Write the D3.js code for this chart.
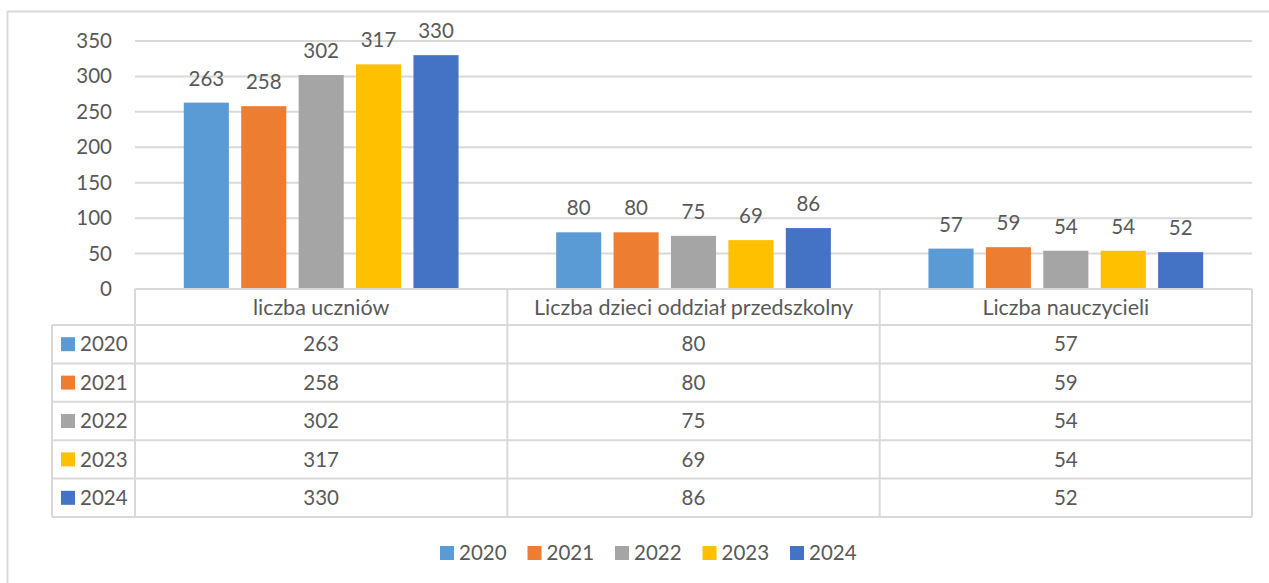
<!DOCTYPE html>
<html>
<head>
<meta charset="utf-8">
<script src="https://cdn.jsdelivr.net/npm/d3@7"></script>
<style>
  body { margin: 0; background: #fff; }
  svg text { font-family: Lato, "Noto Sans", sans-serif; fill: #595959; }
</style>
</head>
<body>
<svg width="1269" height="583"></svg>
<script>
const categories = ["liczba uczniów", "Liczba dzieci oddział przedszkolny", "Liczba nauczycieli"];
const years = ["2020", "2021", "2022", "2023", "2024"];
const values2020 = [263, 80, 57];
const values2021 = [258, 80, 59];
const values2022 = [302, 75, 54];
const values2023 = [317, 69, 54];
const values2024 = [330, 86, 52];
const yTicks = [0, 50, 100, 150, 200, 250, 300, 350];
const colors = ["#5B9BD5", "#ED7D31", "#A5A5A5", "#FFC000", "#4472C4"];

const series = [values2020, values2021, values2022, values2023, values2024];

const svg = d3.select("svg");
const grid = "#d9d9d9";
const fontSize = 20.5;   // numbers
const labelSize = 21.5;  // category names

// chart frame
svg.append("rect")
  .attr("x", 7.5).attr("y", 11.5)
  .attr("width", 1300).attr("height", 600)
  .attr("fill", "none").attr("stroke", grid).attr("stroke-width", 2);

const plotLeft = 135, plotRight = 1252, plotTop = 41, base = 289;

const y = d3.scaleLinear().domain([0, 350]).range([base, plotTop]);
const x = d3.scaleBand().domain(categories).range([plotLeft, plotRight]);
const xInner = d3.scaleBand().domain(years)
  .range([0, x.bandwidth()]).paddingInner(0.215).paddingOuter(0.85);

// gridlines
svg.append("g").selectAll("line")
  .data(yTicks.filter(d => d > 0))
  .join("line")
  .attr("x1", plotLeft).attr("x2", plotRight)
  .attr("y1", d => y(d)).attr("y2", d => y(d))
  .attr("stroke", grid).attr("stroke-width", 2);

// y axis labels
const yAxis = svg.append("g")
  .attr("transform", `translate(${plotLeft - 23},0)`)
  .call(d3.axisLeft(y).tickValues(yTicks).tickSize(0).tickPadding(0));
yAxis.select(".domain").remove();
yAxis.selectAll("text")
  .style("font-size", fontSize + "px")
  .style("font-family", "Lato, 'Noto Sans', sans-serif")
  .attr("fill", "#595959");

// bars
const groups = svg.append("g").selectAll("g")
  .data(categories)
  .join("g")
  .attr("transform", d => `translate(${x(d)},0)`);

groups.selectAll("rect")
  .data((c, i) => years.map((yr, j) => ({ yr, j, v: series[j][i] })))
  .join("rect")
  .attr("x", d => xInner(d.yr))
  .attr("width", xInner.bandwidth())
  .attr("y", d => y(d.v))
  .attr("height", d => base - y(d.v))
  .attr("fill", d => colors[d.j]);

groups.selectAll("text")
  .data((c, i) => years.map((yr, j) => ({ yr, j, v: series[j][i] })))
  .join("text")
  .attr("x", d => xInner(d.yr) + xInner.bandwidth() / 2)
  .attr("y", d => y(d.v) - 17)
  .attr("text-anchor", "middle")
  .style("font-size", fontSize + "px")
  .text(d => d.v);

// data table
const tableLeft = 52;
const headerBottom = 325;
const rowH = 38.4;
const tableBottom = headerBottom + rowH * years.length;
const table = svg.append("g")
  .attr("stroke", grid).attr("stroke-width", 2);

table.append("line")
  .attr("x1", plotLeft).attr("x2", plotRight).attr("y1", base).attr("y2", base);
table.selectAll("line.h")
  .data(d3.range(years.length + 1))
  .join("line").attr("class", "h")
  .attr("x1", tableLeft).attr("x2", plotRight)
  .attr("y1", d => headerBottom + d * rowH)
  .attr("y2", d => headerBottom + d * rowH);
table.selectAll("line.v")
  .data(categories.map(c => x(c)).concat([plotRight]))
  .join("line").attr("class", "v")
  .attr("x1", d => d).attr("x2", d => d)
  .attr("y1", base).attr("y2", tableBottom);
table.append("line")
  .attr("x1", tableLeft).attr("x2", tableLeft)
  .attr("y1", headerBottom).attr("y2", tableBottom);

svg.append("g").selectAll("text")
  .data(categories)
  .join("text")
  .attr("x", d => x(d) + x.bandwidth() / 2)
  .attr("y", (base + headerBottom) / 2)
  .attr("dy", "0.35em")
  .attr("text-anchor", "middle")
  .style("font-size", labelSize + "px")
  .text(d => d);

const rows = svg.append("g").selectAll("g")
  .data(years)
  .join("g")
  .attr("transform", (d, i) => `translate(0,${headerBottom + i * rowH + rowH / 2})`);

rows.append("rect")
  .attr("x", 61).attr("y", -7)
  .attr("width", 14).attr("height", 14)
  .attr("fill", (d, i) => colors[i]);
rows.append("text")
  .attr("x", 80).attr("dy", "0.35em")
  .style("font-size", fontSize + "px")
  .text(d => d);
rows.selectAll("text.val")
  .data((d, i) => categories.map((c, k) => ({ c, v: series[i][k] })))
  .join("text").attr("class", "val")
  .attr("x", d => x(d.c) + x.bandwidth() / 2)
  .attr("dy", "0.35em")
  .attr("text-anchor", "middle")
  .style("font-size", fontSize + "px")
  .text(d => d.v);

// legend
const legend = svg.append("g").selectAll("g")
  .data(years)
  .join("g")
  .attr("transform", (d, i) => `translate(${440 + i * 87.5},553)`);
legend.append("rect")
  .attr("x", 0).attr("y", -7)
  .attr("width", 14).attr("height", 14)
  .attr("fill", (d, i) => colors[i]);
legend.append("text")
  .attr("x", 19).attr("dy", "0.35em")
  .style("font-size", fontSize + "px")
  .text(d => d);
</script>
</body>
</html>
